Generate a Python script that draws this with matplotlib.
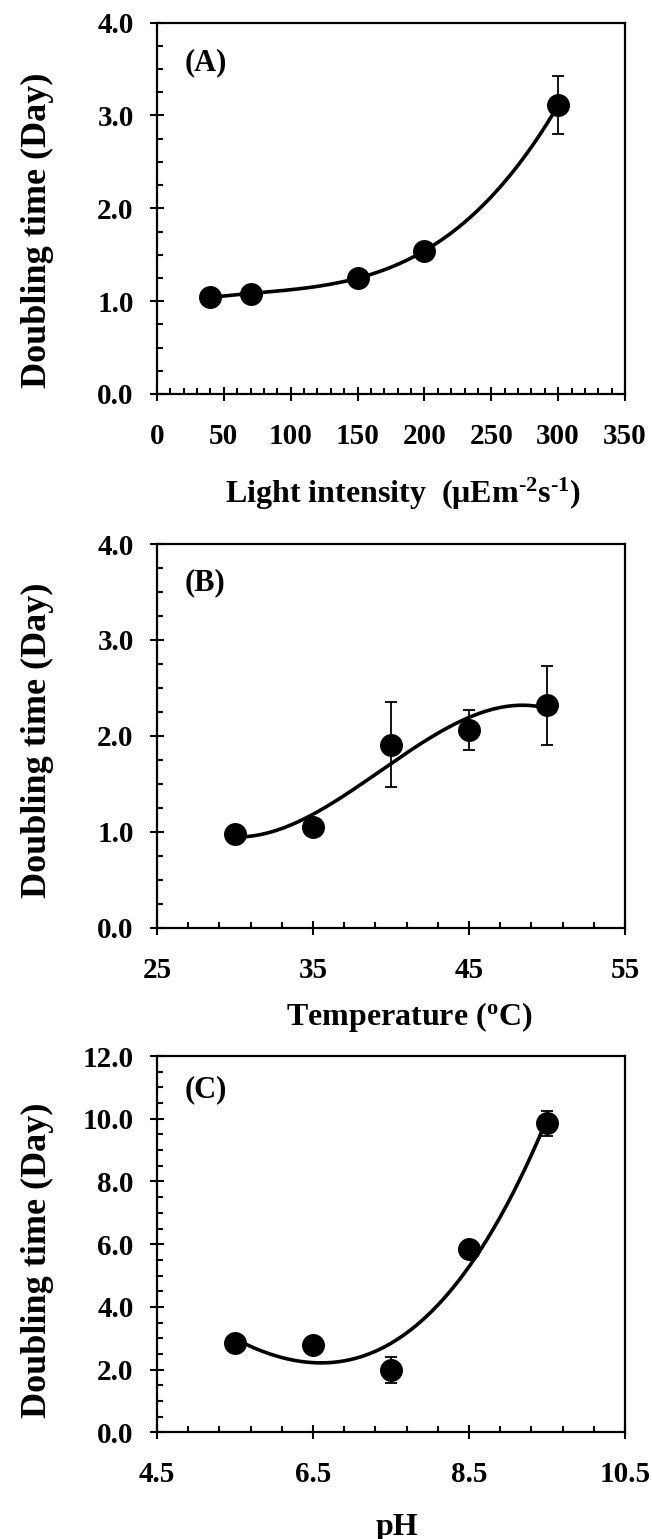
import numpy as np
import matplotlib
matplotlib.use("Agg")
import matplotlib.pyplot as plt
from matplotlib.ticker import FixedLocator, FormatStrFormatter

plt.rcParams['font.family'] = ['Liberation Serif', 'DejaVu Serif']
plt.rcParams['font.weight'] = 'bold'
plt.rcParams['mathtext.fontset'] = 'custom'
plt.rcParams['mathtext.rm'] = 'Liberation Serif:bold'
plt.rcParams['mathtext.bf'] = 'Liberation Serif:bold'
plt.rcParams['mathtext.it'] = 'Liberation Serif:bold'

# (A) light intensity
light = [40, 70, 150, 200, 300]
light_dt = [1.04, 1.08, 1.25, 1.54, 3.11]
light_err = [0.0, 0.0, 0.0, 0.0, 0.31]

# (B) temperature
temp = [30, 35, 40, 45, 50]
temp_dt = [0.98, 1.05, 1.91, 2.06, 2.32]
temp_err = [0.0, 0.0, 0.44, 0.21, 0.41]

# (C) pH
ph = [5.5, 6.5, 7.5, 8.5, 9.5]
ph_dt = [2.84, 2.79, 1.99, 5.85, 9.85]
ph_err = [0.0, 0.0, 0.42, 0.0, 0.40]

ylabel = "Doubling time (Day)"

fig = plt.figure(figsize=(6.52, 15.39), dpi=100)

panels = [
    dict(x=light, y=light_dt, e=light_err, pos=[0.2408, 0.7440, 0.7178, 0.2413],
         xlim=(0, 350), xmaj=50, xmin=10, xfmt='%d', ylim=(0, 4), ymaj=1, ymin=0.25,
         tag='(A)', tagy=0.891),
    dict(x=temp, y=temp_dt, e=temp_err, pos=[0.2408, 0.3972, 0.7178, 0.2493],
         xlim=(25, 55), xmaj=10, xmin=2, xfmt='%d', ylim=(0, 4), ymaj=1, ymin=0.25,
         tag='(B)', tagy=0.898),
    dict(x=ph, y=ph_dt, e=ph_err, pos=[0.2408, 0.0693, 0.7178, 0.2445],
         xlim=(4.5, 10.5), xmaj=2, xmin=0.4, xfmt='%.1f', ylim=(0, 12), ymaj=2, ymin=0.5,
         tag='(C)', tagy=0.91),
]


def steps(lo, hi, step):
    n = int(round((hi - lo) / step))
    return lo + step * np.arange(n + 1)


for p in panels:
    ax = fig.add_axes(p['pos'])
    x = np.array(p['x'], dtype=float)
    y = np.array(p['y'], dtype=float)
    e = np.array(p['e'], dtype=float)

    # cubic trend line through the measured points
    coef = np.polyfit(x, y, 3)
    xs = np.linspace(x.min(), x.max(), 300)
    ax.plot(xs, np.polyval(coef, xs), color='black', lw=2.6, zorder=2)

    ax.errorbar(x, y, yerr=np.where(e > 0, e, np.nan), fmt='none', ecolor='black',
                elinewidth=1.3, capsize=4.5, capthick=1.3, zorder=3)
    ax.plot(x, y, 'o', color='black', ms=15.5, zorder=4)

    ax.set_xlim(*p['xlim'])
    ax.set_ylim(*p['ylim'])
    ax.xaxis.set_major_locator(FixedLocator(steps(*p['xlim'], p['xmaj'])))
    ax.xaxis.set_minor_locator(FixedLocator(steps(*p['xlim'], p['xmin'])))
    ax.yaxis.set_major_locator(FixedLocator(steps(*p['ylim'], p['ymaj'])))
    ax.yaxis.set_minor_locator(FixedLocator(steps(*p['ylim'], p['ymin'])))
    ax.xaxis.set_major_formatter(FormatStrFormatter(p['xfmt']))
    ax.yaxis.set_major_formatter(FormatStrFormatter('%.1f'))

    for s in ax.spines.values():
        s.set_linewidth(1.6)
    ax.tick_params(which='major', direction='inout', length=9.5, width=1.5, labelsize=21)
    ax.tick_params(which='minor', direction='in', length=4.5, width=1.5)
    ax.tick_params(axis='x', which='major', pad=16)
    ax.tick_params(axis='y', which='major', pad=12)
    for lab in ax.get_xticklabels() + ax.get_yticklabels():
        lab.set_fontweight('bold')

    ax.text(0.06, p['tagy'], p['tag'], transform=ax.transAxes, ha='left', va='center',
            fontsize=22, fontweight='bold')

# axis titles
fig.text(0.0575, 0.8506, ylabel, rotation=90, ha='center', va='center', fontsize=26, fontweight='bold')
fig.text(0.0575, 0.5192, ylabel, rotation=90, ha='center', va='center', fontsize=26, fontweight='bold')
fig.text(0.0575, 0.1813, ylabel, rotation=90, ha='center', va='center', fontsize=26, fontweight='bold')

fig.text(0.618, 0.6732, r'Light intensity  ($\mu$Em$^{\text{-2}}$s$^{\text{-1}}$)',
         ha='center', va='baseline', fontsize=23, fontweight='bold')
fig.text(0.627, 0.334, r'Temperature ($^{\mathrm{o}}$C)',
         ha='center', va='baseline', fontsize=23, fontweight='bold')
fig.text(0.609, 0.0026, 'pH', ha='center', va='baseline', fontsize=23, fontweight='bold')

fig.savefig('out.png', dpi=100)
